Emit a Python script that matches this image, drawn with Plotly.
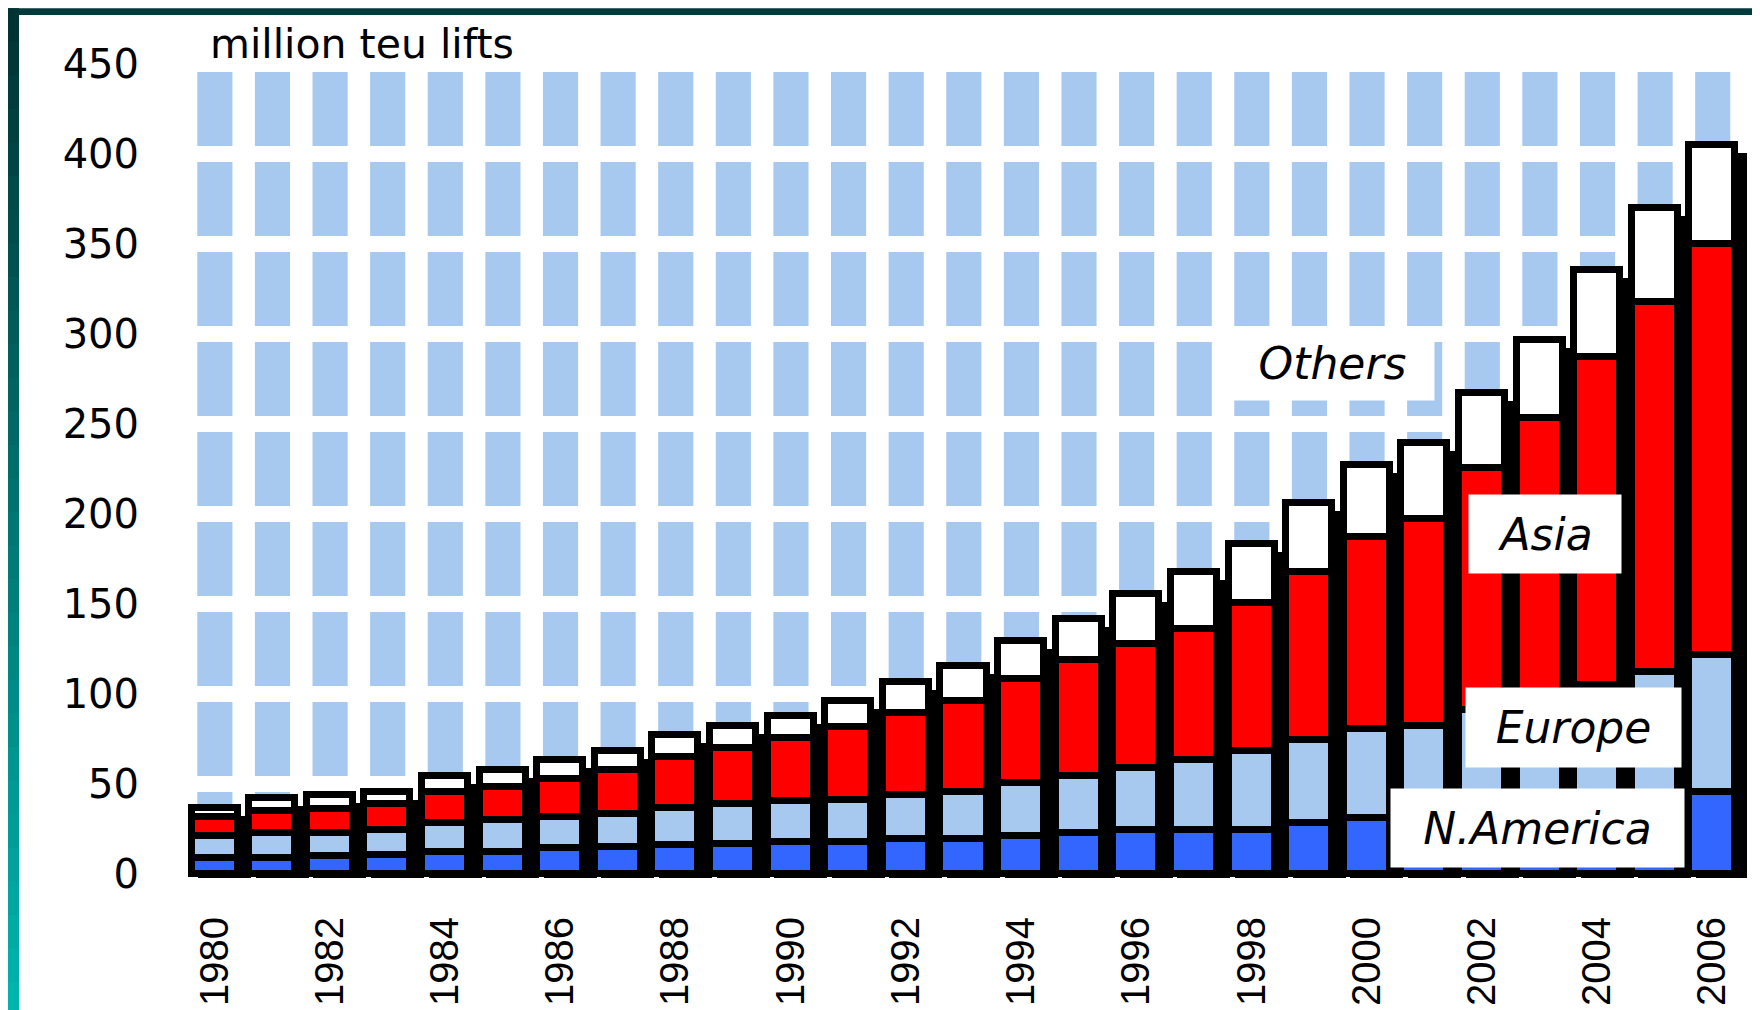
import plotly.graph_objects as go

years = list(range(1980, 2007))
north_america = [8.9, 8.9, 9.8, 10.5, 12.2, 12.2, 14.2, 15.0, 15.9, 16.7, 17.8, 17.8, 19.4, 19.4,
                 21.1, 22.8, 24.4, 24.4, 24.4, 28.1, 30.9, 31.5, 33.0, 36.0, 39.0, 42.0, 45.5]
europe = [12.2, 13.9, 13.0, 13.9, 15.9, 17.8, 17.5, 18.3, 20.8, 22.0, 22.6, 23.3, 24.5, 26.1,
          29.6, 31.6, 34.3, 38.7, 43.9, 46.3, 49.6, 50.7, 58.1, 62.0, 66.0, 70.0, 76.0]
asia = [10.5, 12.2, 13.1, 14.3, 17.4, 18.1, 20.9, 24.5, 28.1, 31.3, 35.0, 40.4, 45.3, 50.6,
        57.6, 64.5, 69.1, 73.0, 82.1, 93.4, 106.5, 115.0, 134.2, 155.2, 182.2, 205.8, 228.5]
others = [5.1, 7.2, 8.0, 6.8, 8.9, 9.7, 10.5, 10.5, 12.2, 12.2, 12.2, 14.6, 17.5, 19.4,
          21.1, 22.8, 27.7, 31.5, 32.9, 38.3, 40.2, 42.2, 41.9, 43.4, 48.2, 52.2, 55.0]
series_names = ["N.America", "Europe", "Asia", "Others"]
y_ticks = list(range(0, 451, 50))
x_ticks = list(range(1980, 2007, 2))

W, H = 1760, 1010
L, R, T, B = 172, 21, 56, 138
PW, PH = W - L - R, H - T - B
X_RANGE = [years[0] - 0.6, years[-1] + 0.6]

def px(xp):
    return (xp - L) / PW

def py(yp):
    return (H - B - yp) / PH

colors = {"N.America": "#3366ff", "Europe": "#a8c9ef", "Asia": "#ff0000", "Others": "#ffffff"}
bg_blue = "#a8c9ef"

fig = go.Figure()

series = [north_america, europe, asia, others]
totals = [sum(v) for v in zip(*series)]

# drop shadow behind each stacked bar
fig.add_trace(go.Bar(
    x=years, y=[t - 2.2 for t in totals], base=[-2.0] * len(years),
    width=0.92, offset=-0.46 + 0.174,
    marker=dict(color="black", line=dict(width=0)),
    hoverinfo="skip", showlegend=False))

cum = [0.0] * len(years)
for name, vals in zip(series_names, series):
    fig.add_trace(go.Bar(
        x=years, y=vals, base=list(cum), name=name,
        width=0.8, offset=-0.4,
        marker=dict(color=colors[name], line=dict(color="black", width=7)),
        showlegend=False))
    cum = [c + v for c, v in zip(cum, vals)]

shapes = []
# background blue columns
for yr in years:
    shapes.append(dict(type="rect", xref="x", yref="y", x0=yr - 0.3, x1=yr + 0.31,
                       y0=0, y1=450, fillcolor=bg_blue, line=dict(width=0), layer="below"))
# white gridlines cutting the columns
for yv in y_ticks:
    shapes.append(dict(type="line", xref="x", yref="y", x0=X_RANGE[0] - 1, x1=X_RANGE[1] + 1,
                       y0=yv, y1=yv, line=dict(color="white", width=16), layer="below"))

# frame
shapes.append(dict(type="rect", xref="paper", yref="paper", x0=px(0), x1=px(W), y0=py(0), y1=py(7),
                   fillcolor="#003a3a", line=dict(width=0)))
n = 30
for i in range(n):
    t = i / (n - 1)
    c = f"rgb(0,{int(52 + 128 * t)},{int(52 + 120 * t)})"
    shapes.append(dict(type="rect", xref="paper", yref="paper", x0=px(0), x1=px(11),
                       y0=py(H * i / n), y1=py(H * (i + 1) / n + 1), fillcolor=c, line=dict(width=0)))
shapes.append(dict(type="rect", xref="paper", yref="paper", x0=px(0), x1=px(W), y0=py(1007), y1=py(H),
                   fillcolor="#0a1a1a", line=dict(width=0)))
shapes.append(dict(type="rect", xref="paper", yref="paper", x0=px(W - 3), x1=px(W), y0=py(0), y1=py(H),
                   fillcolor="#0a2a2a", line=dict(width=0)))

annotations = [
    dict(text="million teu lifts", xref="paper", yref="paper", x=px(200), y=py(36),
         xanchor="left", yanchor="middle", showarrow=False,
         font=dict(family="DejaVu Sans", size=41, color="black")),
]
labels = [
    ("Others", 1999.40, 283.5, 203, 73),
    ("Asia", 2003.10, 189.0, 152, 78),
    ("Europe", 2003.58, 81.2, 215, 79),
    ("N.America", 2002.97, 25.5, 293, 78),
]
for text, lx, ly, w, h in labels:
    annotations.append(dict(text=f"<i>{text}</i>", xref="x", yref="y", x=lx, y=ly,
                            xanchor="center", yanchor="middle", showarrow=False,
                            width=w, height=h, borderpad=0, bgcolor="white",
                            align="center", valign="middle",
                            font=dict(family="DejaVu Sans", size=44, color="black")))

fig.update_layout(
    width=W, height=H,
    margin=dict(l=L, r=R, t=T, b=B, pad=0),
    paper_bgcolor="white", plot_bgcolor="white",
    barmode="overlay", bargap=0,
    shapes=shapes, annotations=annotations,
    showlegend=False,
    xaxis=dict(range=X_RANGE, tickmode="array", tickvals=x_ticks,
               ticktext=[str(v) for v in x_ticks], tickangle=-90,
               ticks="outside", ticklen=22, tickcolor="rgba(0,0,0,0)",
               showgrid=False, zeroline=False, showline=False,
               tickfont=dict(family="Liberation Sans", size=40, color="black")),
    yaxis=dict(range=[-2.2, 450], tickmode="array", tickvals=y_ticks,
               ticktext=[str(v) for v in y_ticks],
               ticks="outside", ticklen=32, tickcolor="rgba(0,0,0,0)",
               showgrid=False, zeroline=False, showline=False,
               tickfont=dict(family="DejaVu Sans", size=40, color="black")),
)

fig.write_html("out.html")
